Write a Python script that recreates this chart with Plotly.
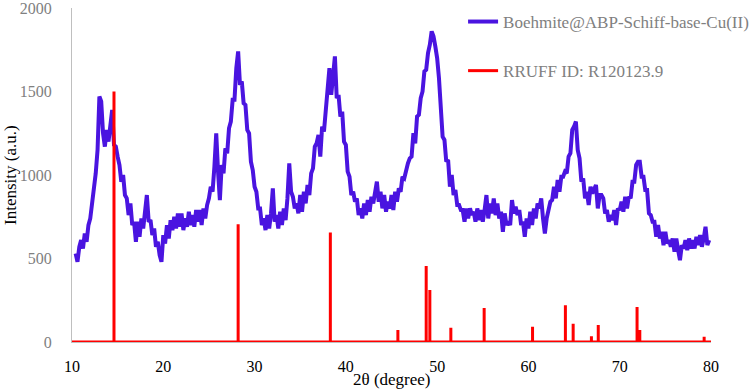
import plotly.graph_objects as go

# ---- Sample XRD pattern: 2-theta scan from 10.4 to 79.8 deg, step 0.2 deg ----
scan_start = 10.4
scan_step = 0.2
intensity = [
    530, 480, 570,                      # 10.4-10.8
    610, 560, 650, 600, 700,            # 11
    740, 820, 890, 1010, 1150,          # 12
    1470, 1440, 1250, 1170, 1270,       # 13
    1200, 1290, 1390, 1180, 1170,       # 14
    1110, 1060, 960, 1000, 880,         # 15
    860, 760, 830, 700, 720,            # 16
    600, 720, 630, 740, 680,            # 17
    780, 880, 720, 730, 640,            # 18
    680, 570, 600, 520, 480,            # 19
    640, 590, 700, 620, 730,            # 20
    670, 750, 680, 770, 690,            # 21
    770, 670, 740, 690, 780,            # 22
    700, 760, 690, 790, 720,            # 23
    790, 700, 800, 740, 820,            # 24
    860, 930, 900, 1050, 1250,          # 25
    1020, 850, 1060, 1010, 1160,        # 26
    1130, 1280, 1320, 1450, 1450,       # 27
    1640, 1740, 1540, 1560, 1430,       # 28
    1420, 1270, 1250, 1080, 1030,       # 29
    930, 900, 800, 800, 700,            # 30
    740, 670, 760, 680, 770,            # 31
    920, 720, 760, 680, 780,            # 32
    700, 800, 730, 860, 1070,           # 33
    900, 870, 800, 830, 770,            # 34
    880, 780, 900, 830, 940,            # 35
    880, 1010, 1040, 1170, 1190,        # 36
    1240, 1110, 1290, 1260, 1400,       # 37
    1500, 1640, 1480, 1600, 1710,       # 38
    1460, 1480, 1350, 1380, 1200,       # 39
    1180, 1020, 990, 880, 900,          # 40
    840, 860, 760, 800, 740,            # 41
    830, 760, 850, 780, 870,            # 42
    830, 900, 960, 840, 900,            # 43
    800, 880, 780, 840, 800,            # 44
    880, 790, 900, 840, 920,            # 45
    900, 990, 980, 1040, 1070,          # 46
    1100, 1110, 1250, 1190, 1350,       # 47
    1360, 1460, 1500, 1620, 1630,       # 48
    1730, 1780, 1860, 1830, 1770,       # 49
    1700, 1580, 1430, 1230, 1210,       # 50
    1080, 1090, 930, 1000, 880,         # 51
    910, 820, 820, 790, 790,            # 52
    720, 800, 740, 800, 760,            # 53
    780, 720, 800, 730, 790,            # 54
    720, 790, 880, 740, 830,            # 55
    770, 860, 760, 830, 740,            # 56
    780, 660, 770, 700, 720,            # 57
    700, 850, 770, 810, 760,            # 58
    790, 700, 720, 630, 740,            # 59
    680, 780, 700, 800, 740,            # 60
    830, 800, 860, 740, 650,            # 61
    740, 800, 840, 850, 930,            # 62
    860, 970, 900, 990, 990,            # 63
    1020, 1010, 1110, 1130, 1270,       # 64
    1290, 1320, 1150, 1100, 960,        # 65
    980, 860, 900, 820, 930,            # 66
    890, 920, 940, 800, 880,            # 67
    880, 860, 770, 790, 720,            # 68
    760, 730, 790, 700, 800,            # 69
    790, 840, 780, 870, 800,            # 70
    870, 860, 960, 960, 1060,           # 71
    1080, 1080, 990, 990, 910,          # 72
    910, 770, 760, 720, 720,            # 73
    630, 700, 620, 660, 580,            # 74
    660, 590, 610, 570, 620,            # 75
    540, 620, 550, 490, 580,            # 76
    560, 610, 550, 620, 560,            # 77
    610, 560, 630, 580, 640,            # 78
    570, 620, 690, 580, 610,            # 79
]
two_theta = [round(scan_start + scan_step * i, 2) for i in range(len(intensity))]

# ---- Reference pattern (RRUFF R120123.9) stick positions and heights ----
ref_positions = [14.6, 28.2, 38.3, 45.7, 48.8, 49.2, 51.5, 55.15, 60.45,
                 64.05, 64.9, 66.9, 67.65, 71.9, 72.2, 79.25]
ref_heights = [1500, 705, 655, 72, 455, 312, 85, 203, 92,
               220, 110, 35, 102, 210, 72, 32]
x_range = [10, 80]
y_range = [0, 2000]

ref_x = [x_range[0]]
ref_y = [0]
for p, h in zip(ref_positions, ref_heights):
    ref_x += [p, p, p]
    ref_y += [0, h, 0]
ref_x.append(x_range[1])
ref_y.append(0)

FONT = "Liberation Serif"

fig = go.Figure()
fig.add_trace(go.Scatter(
    x=two_theta, y=intensity, mode="lines",
    name="Boehmite@ABP-Schiff-base-Cu(II)",
    line=dict(color="#4A14E0", width=4),
    legendgroup="a",
))
fig.add_trace(go.Scatter(
    x=ref_x, y=ref_y, mode="lines",
    name="RRUFF ID: R120123.9",
    line=dict(color="#FF0000", width=3),
    legendgroup="b",
))

fig.update_layout(
    width=749, height=389,
    margin=dict(l=72, r=38, t=8, b=47, autoexpand=False),
    paper_bgcolor="white", plot_bgcolor="white",
    font=dict(family=FONT, size=16, color="black"),
    showlegend=True,
    legend=dict(
        x=0.612, y=1.012, xanchor="left", yanchor="top",
        xref="paper", yref="paper",
        font=dict(family=FONT, size=17, color="#808080"),
        bgcolor="rgba(0,0,0,0)",
        traceorder="grouped", tracegroupgap=24,
    ),
    xaxis=dict(
        range=x_range, dtick=10, tick0=10, automargin=False,
        showgrid=False, zeroline=False,
        showline=True, linecolor="#BFBFBF", linewidth=1,
        ticks="", ticklabelstandoff=10,
        tickfont=dict(family=FONT, size=16, color="black"),
    ),
    yaxis=dict(
        range=y_range, dtick=500, automargin=False,
        showgrid=False, zeroline=False,
        showline=True, linecolor="#BFBFBF", linewidth=1,
        ticks="", ticklabelstandoff=16, ticklabeloverflow="allow",
        tickfont=dict(family=FONT, size=16, color="#808080"),
    ),
    annotations=[
        dict(text="2θ (degree)", x=0.5, y=0, xref="paper", yref="paper",
             xanchor="center", yanchor="top", yshift=-26, showarrow=False,
             font=dict(family=FONT, size=17, color="black")),
        dict(text="Intensity (a.u.)", x=0, y=0.5, xref="paper", yref="paper",
             xanchor="center", yanchor="middle", xshift=-62, textangle=-90,
             showarrow=False, font=dict(family=FONT, size=17, color="black")),
    ],
)

fig.write_html("out.html", config={"displayModeBar": False},
               post_script="document.body.style.margin='0';")
